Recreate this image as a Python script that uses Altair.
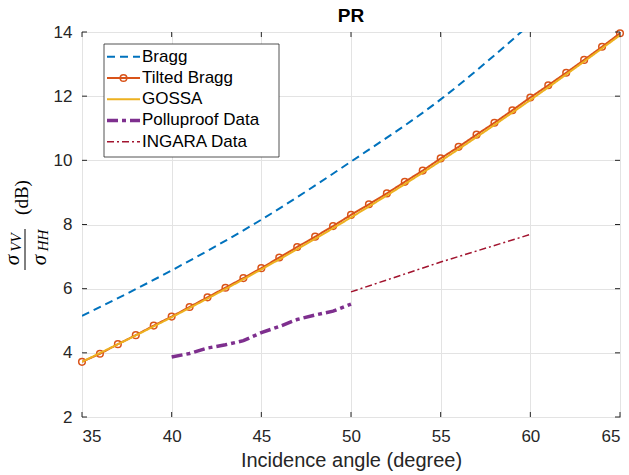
import altair as alt
import pandas as pd

# ---- data -------------------------------------------------------------
bragg_angle = [35, 40, 45, 50, 55, 60]
bragg_pr = [5.15, 6.57, 8.15, 9.96, 11.9, 14.25]

tilted_angle = list(range(35, 66))
tilted_pr = [3.72, 3.97, 4.27, 4.55, 4.85, 5.13, 5.43, 5.73, 6.03, 6.33,
             6.64, 6.97, 7.30, 7.62, 7.95, 8.30, 8.63, 8.97, 9.33, 9.68,
             10.06, 10.42, 10.80, 11.17, 11.56, 11.96, 12.34, 12.73, 13.13,
             13.54, 13.96]

gossa_angle = [35, 40, 45, 50, 55, 60, 65]
gossa_pr = [3.72, 5.11, 6.60, 8.22, 9.98, 11.88, 13.90]

polluproof_angle = [40, 41, 42, 43, 44, 45, 46, 47, 48, 49, 50]
polluproof_pr = [3.87, 3.98, 4.15, 4.25, 4.38, 4.63, 4.82, 5.04, 5.18, 5.30, 5.52]

ingara_angle = [50, 55, 60]
ingara_pr = [5.90, 6.83, 7.69]

x_ticks = [35, 40, 45, 50, 55, 60, 65]
y_ticks = [2, 4, 6, 8, 10, 12, 14]

series_names = ["Bragg", "Tilted Bragg", "GOSSA", "Polluproof Data", "INGARA Data"]
series_colors = ["#0072BD", "#D95319", "#EDB120", "#7E2F8E", "#A2142F"]
series_dash = [[8, 5], [1, 0], [1, 0], [11, 4, 4, 4], [7, 3, 2, 3]]
series_width = [2, 2, 2, 3.5, 1.5]

W, H = 538, 385
FONT = "Liberation Sans"
SERIF = "Liberation Serif"
INK = "#262626"

xscale = alt.Scale(domain=[35, 65], nice=False, zero=False)
yscale = alt.Scale(domain=[2, 14], nice=False, zero=False)
xaxis = alt.Axis(values=x_ticks, grid=True, ticks=False, tickSize=0, domain=False,
                 labelPadding=11, title="Incidence angle (degree)")
yaxis = alt.Axis(values=y_ticks, grid=True, ticks=False, tickSize=0, domain=False,
                 labelPadding=10, title=None)


def X():
    return alt.X("angle:Q", scale=xscale, axis=xaxis)


def Y():
    return alt.Y("pr:Q", scale=yscale, axis=yaxis)


def frame(a, p):
    return pd.DataFrame({"angle": a, "pr": p})


one = pd.DataFrame({"k": [0]})

layers = []

# curves
curves = [
    (bragg_angle, bragg_pr),
    (tilted_angle, tilted_pr),
    (gossa_angle, gossa_pr),
    (polluproof_angle, polluproof_pr),
    (ingara_angle, ingara_pr),
]
for i, (a, p) in enumerate(curves):
    line = alt.Chart(frame(a, p)).mark_line(
        color=series_colors[i], strokeDash=series_dash[i],
        strokeWidth=series_width[i], clip=True,
        interpolate="monotone" if i in (0, 2) else "linear",
    ).encode(x=X(), y=Y())
    layers.append(line)
    if i == 1:
        layers.append(
            alt.Chart(frame(a, p)).mark_point(
                shape="circle", size=44, filled=False, color=series_colors[1],
                strokeWidth=1.5, opacity=1,
            ).encode(x=X(), y=Y())
        )

# inward tick marks on all four sides
xt = pd.DataFrame({"angle": x_ticks})
yt = pd.DataFrame({"pr": y_ticks})
for y0, y1 in [(H, H - 5), (0, 5)]:
    layers.append(alt.Chart(xt).mark_rule(color=INK, strokeWidth=1).encode(
        x=X(), y=alt.value(y0), y2=alt.value(y1)))
for x0, x1 in [(0, 5), (W, W - 5)]:
    layers.append(alt.Chart(yt).mark_rule(color=INK, strokeWidth=1).encode(
        y=Y(), x=alt.value(x0), x2=alt.value(x1)))

# legend
layers.append(alt.Chart(one).mark_rect(fill="white", stroke=INK, strokeWidth=0.8).encode(
    x=alt.value(22), x2=alt.value(197), y=alt.value(12), y2=alt.value(125)))
for i, name in enumerate(series_names):
    yy = 24.7 + i * 21.25
    layers.append(alt.Chart(one).mark_rule(
        color=series_colors[i], strokeDash=series_dash[i], strokeWidth=series_width[i]
    ).encode(x=alt.value(25), x2=alt.value(58), y=alt.value(yy)))
    if i == 1:
        layers.append(alt.Chart(one).mark_point(
            shape="circle", size=44, filled=False, color=series_colors[1],
            strokeWidth=1.5, opacity=1,
        ).encode(x=alt.value(41.5), y=alt.value(yy)))
    layers.append(alt.Chart(one).mark_text(
        align="left", baseline="middle", font=FONT, fontSize=17, color="black"
    ).encode(x=alt.value(60), y=alt.value(yy), text=alt.value(name)))


# y-axis label: sigma_VV / sigma_HH (dB)
def ytext(txt, x, y, size, style="italic", family=SERIF):
    return alt.Chart(one).mark_text(
        angle=270, align="center", baseline="alphabetic", font=family,
        fontSize=size, fontStyle=style, color="black",
    ).encode(x=alt.value(x), y=alt.value(y), text=alt.value(txt))


layers.append(ytext("σ", -63.5, 228, 21))
layers.append(ytext("VV", -61.5, 210.5, 15))
layers.append(ytext("σ", -36, 228, 21))
layers.append(ytext("HH", -34, 208.5, 15))
layers.append(alt.Chart(one).mark_rule(color="black", strokeWidth=1).encode(
    x=alt.value(-57), y=alt.value(197), y2=alt.value(238)))
layers.append(ytext("(dB)", -54.5, 165.5, 19, style="normal"))

# plot title
layers.append(alt.Chart(one).mark_text(
    align="center", baseline="alphabetic", font=FONT, fontSize=19,
    fontWeight="bold", color="black",
).encode(x=alt.value(W / 2), y=alt.value(-10.5), text=alt.value("PR")))

chart = alt.layer(*layers).properties(
    width=W, height=H,
    autosize=alt.AutoSizeParams(type="none"),
    padding={"left": 82, "top": 32, "right": 9, "bottom": 58},
).configure_view(
    stroke=INK, strokeWidth=1
).configure_axis(
    labelFont=FONT, labelFontSize=17, labelColor=INK,
    titleFont=FONT, titleFontSize=20, titleColor=INK, titleFontWeight="normal",
    gridColor="#e3e3e3", gridWidth=1, gridOpacity=1,
).configure_axisX(titlePadding=6)

chart.save("out.html", embed_options={"renderer": "svg", "actions": False})
